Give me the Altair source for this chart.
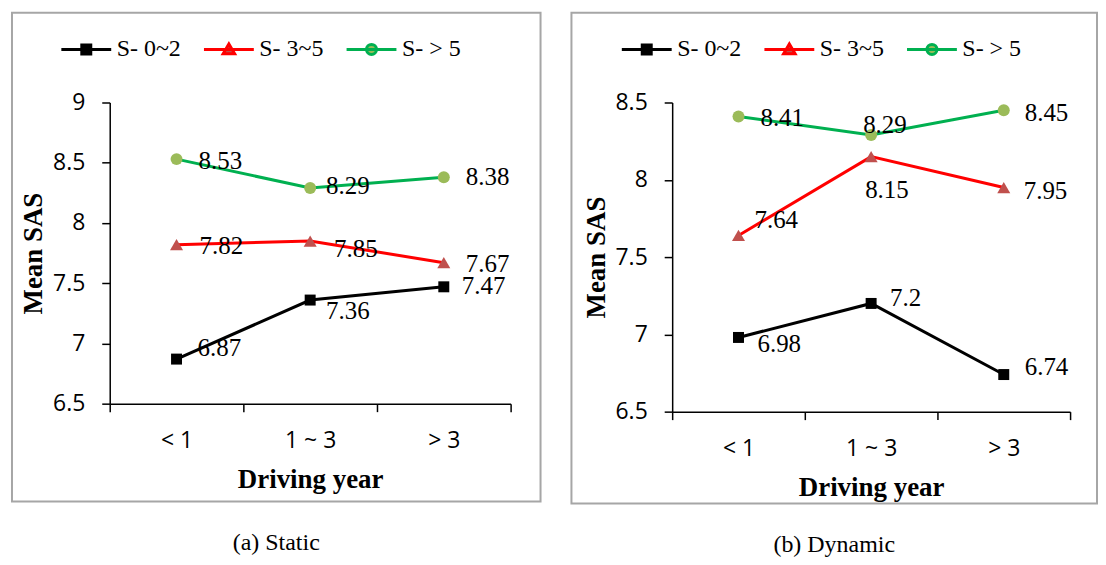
import altair as alt
import pandas as pd

# ---------------- data ----------------
categories = ["< 1", "1 ~ 3", "> 3"]
series = ["S- 0~2", "S- 3~5", "S- > 5"]

static_s02 = [6.87, 7.36, 7.47]
static_s35 = [7.82, 7.85, 7.67]
static_s5 = [8.53, 8.29, 8.38]

dynamic_s02 = [6.98, 7.2, 6.74]
dynamic_s35 = [7.64, 8.15, 7.95]
dynamic_s5 = [8.41, 8.29, 8.45]

static_ticks = [6.5, 7, 7.5, 8, 8.5, 9]
dynamic_ticks = [6.5, 7, 7.5, 8, 8.5]

# ---------------- styles / layout ----------------
line_colors = ["#000000", "#FF0000", "#00B050"]
marker_colors = ["#000000", "#C0504D", "#9BBB59"]
marker_shapes = ["square", "triangle-up", "circle"]
marker_sizes = [121, 170, 144]
legend_paths = [
    "M-1,0H1M-0.18,-0.18H0.18V0.18H-0.18Z",
    "M-1,0H1M0,-0.22L0.23,0.17H-0.23Z",
    "M-1,0H1M0.2,0A0.2,0.2,0,1,1,-0.2,0A0.2,0.2,0,1,1,0.2,0Z",
]

# label placement offsets in pixels (dx, dy) relative to each marker
static_label_offsets = [
    [(21, -11), (16, 11), (18, -1)],
    [(23, 1), (24, 8), (22, 1)],
    [(22, 2), (16, -2), (22, 0)],
]
dynamic_label_offsets = [
    [(19, 7), (19, -5), (21, -8)],
    [(16, -15), (-6, 34), (20, 4)],
    [(22, 2), (-8, -10), (21, 3)],
]

SERIF = "Liberation Serif"
SANS = "Open Sans"


def panel(values, offsets, ticks, width, height, box, caption, legend_xy):
    rows = []
    for s, vals, offs in zip(series, values, offsets):
        for c, v, (dx, dy) in zip(categories, vals, offs):
            rows.append({"year": c, "series": s, "sas": v,
                         "label": f"{v:g}", "dx": dx, "dy": dy})
    df = pd.DataFrame(rows)
    base = alt.Chart(df)

    x = alt.X(
        "year:N", sort=categories,
        scale=alt.Scale(paddingInner=0, paddingOuter=0),
        axis=alt.Axis(
            labelAngle=0, tickBand="extent", grid=False,
            domainColor="black", domainWidth=1.5,
            tickColor="black", tickWidth=1.5, tickSize=8,
            labelFont=SANS, labelFontSize=23, labelColor="black", labelPadding=18,
            title="Driving year", titleFont=SERIF, titleFontSize=27,
            titleFontWeight="bold", titleColor="black", titlePadding=14,
        ),
    )
    y = alt.Y(
        "sas:Q",
        scale=alt.Scale(domain=[ticks[0], ticks[-1]], nice=False, zero=False),
        axis=alt.Axis(
            values=ticks, format="~g", grid=False,
            domainColor="black", domainWidth=1.5,
            tickColor="black", tickWidth=1.5, tickSize=8,
            labelFont=SANS, labelFontSize=23, labelColor="black", labelPadding=17,
            title="Mean SAS", titleFont=SERIF, titleFontSize=27,
            titleFontWeight="bold", titleColor="black", titlePadding=5,
        ),
    )

    one = alt.Chart(pd.DataFrame({"k": [0]}))
    layers = [
        one.mark_rect(fill="transparent", stroke="#A6A6A6", strokeWidth=2).encode(
            x=alt.value(box[0]), x2=alt.value(box[1]),
            y=alt.value(box[2]), y2=alt.value(box[3]),
        ),
        one.mark_text(font=SERIF, fontSize=24, color="black",
                      align="center", baseline="middle").encode(
            x=alt.value((box[0] + box[1]) / 2), y=alt.value(box[3] + 42),
            text=alt.value(caption),
        ),
    ]
    for i, s in enumerate(series):
        sub = base.transform_filter(alt.datum.series == s)
        layers.append(sub.mark_line(color=line_colors[i], strokeWidth=3).encode(x=x, y=y))
    for i, s in enumerate(series):
        sub = base.transform_filter(alt.datum.series == s)
        layers.append(sub.mark_point(shape=marker_shapes[i], filled=True, opacity=1,
                                     color=marker_colors[i], size=marker_sizes[i],
                                     strokeWidth=0).encode(x=x, y=y))
    layers.append(
        base.mark_text(align="left", baseline="middle", font=SERIF, fontSize=25,
                       color="black", dx=alt.expr("datum.dx"),
                       dy=alt.expr("datum.dy")).encode(
            x=x, y=y, text="label:N",
        )
    )
    leg = alt.Legend(
        title=None, orient="none", legendX=legend_xy[0], legendY=legend_xy[1],
        direction="horizontal", symbolSize=2500, symbolStrokeWidth=3,
        labelFont=SERIF, labelFontSize=24, labelColor="black", labelOffset=4,
        columnPadding=16, padding=0,
    )
    layers.append(
        base.transform_filter("false").mark_point(filled=True, opacity=1).encode(
            shape=alt.Shape("series:N", scale=alt.Scale(domain=series, range=legend_paths), legend=leg),
            fill=alt.Fill("series:N", scale=alt.Scale(domain=series, range=marker_colors), legend=leg),
            stroke=alt.Stroke("series:N", scale=alt.Scale(domain=series, range=line_colors), legend=leg),
        )
    )
    return alt.layer(*layers).properties(width=width, height=height)


left = panel([static_s02, static_s35, static_s5], static_label_offsets, static_ticks,
             402, 302, (-98, 432, -90, 400), "(a) Static", (-50, -80))
right = panel([dynamic_s02, dynamic_s35, dynamic_s5], dynamic_label_offsets, dynamic_ticks,
              399, 310, (-101, 426, -90, 402), "(b) Dynamic", (-52, -80))

chart = (
    alt.hconcat(left, right, spacing=29)
    .resolve_scale(shape="independent", fill="independent", stroke="independent",
                   x="independent", y="independent")
    .properties(padding={"left": 3, "top": 3, "right": 0, "bottom": 0})
    .configure_view(strokeWidth=0)
)

chart.save("out.html", embed_options={"renderer": "svg", "actions": False})
